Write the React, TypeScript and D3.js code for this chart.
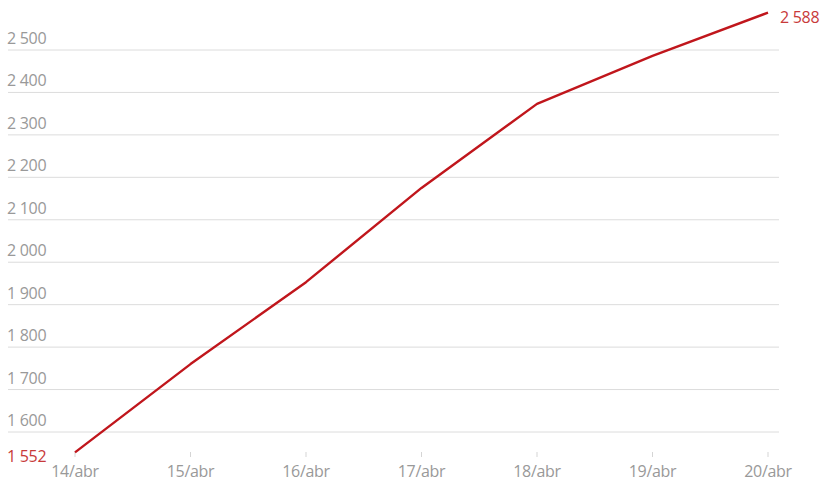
import React from 'react'
import * as d3 from 'd3'

const days = ['14/abr', '15/abr', '16/abr', '17/abr', '18/abr', '19/abr', '20/abr']
const cases = [1552, 1760, 1953, 2175, 2373, 2486, 2588]
const yTicks = [1600, 1700, 1800, 1900, 2000, 2100, 2200, 2300, 2400, 2500]

const width = 825
const height = 481
const red = '#c0161c'
const grey = '#999'
const font = '"Open Sans", sans-serif'

const fmt = d3.formatLocale({ decimal: ',', thousands: ' ', grouping: [3], currency: ['', ''] }).format(',d')

export default function App() {
  const x = d3.scalePoint<string>().domain(days).range([75, 768])
  const y = d3.scaleLinear().domain([1600, 2500]).range([432, 50])

  const line = d3.line<number>()
    .x((d, i) => x(days[i]) as number)
    .y(d => y(d))

  const last = cases.length - 1

  return (
    <svg width={width} height={height} style={{ position: 'fixed', left: 0, top: 0, background: '#fff' }}>
      <g>
        {yTicks.map(t => (
          <g key={t}>
            <line x1={8} x2={779} y1={y(t)} y2={y(t)} stroke="#dcdcdc" strokeWidth={1} />
            <text x={7} y={y(t) - 6} fill={grey} fontSize={16} fontFamily={font} letterSpacing={-0.3}>{fmt(t)}</text>
          </g>
        ))}
      </g>
      <g>
        {days.map(d => (
          <g key={d}>
            <line x1={x(d)} x2={x(d)} y1={452} y2={457} stroke="#d5d5d5" />
            <text x={x(d)} y={477} textAnchor="middle" fill={grey} fontSize={16} fontFamily={font} letterSpacing={-0.3}>{d}</text>
          </g>
        ))}
      </g>
      <path d={line(cases) || ''} fill="none" stroke={red} strokeWidth={2.4} strokeLinejoin="round" />
      <text x={7} y={y(cases[0]) + 10} fill="#c83a3a" fontSize={16} fontFamily={font} letterSpacing={-0.3}>{fmt(cases[0])}</text>
      <text x={(x(days[last]) as number) + 12} y={y(cases[last]) + 10} fill="#c83a3a" fontSize={16} fontFamily={font} letterSpacing={-0.3}>{fmt(cases[last])}</text>
    </svg>
  )
}
